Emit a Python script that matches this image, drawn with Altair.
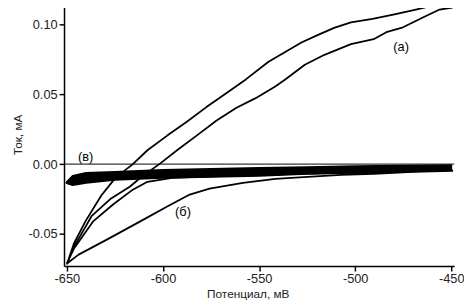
import altair as alt
import pandas as pd

# ---- curve (а): loop, left (upper) branch and right (lower) branch, bottom -> top
a_left_x = [-650, -646.4, -640.3, -632.1, -626.0, -620.8, -615.7, -608.1, -597.8, -587.6,
            -577.4, -567.1, -556.9, -545.1, -536.4, -528.0, -519.6, -511.0, -502.2, -491.0,
            -480.2, -468.4, -459.7, -454.6, -449.5]
a_left_y = [-0.0718, -0.0570, -0.0408, -0.0225, -0.0120, -0.0056, 0.0000, 0.0099, 0.0204, 0.0303,
            0.0408, 0.0507, 0.0606, 0.0732, 0.0803, 0.0870, 0.0923, 0.0975, 0.1014, 0.1040,
            0.1070, 0.1106, 0.1134, 0.1127, 0.1120]
a_right_x = [-650, -648.0, -643.9, -637.2, -627.0, -617.3, -610.6, -601.9, -592.7, -582.5,
             -572.3, -562.0, -551.8, -541.6, -536.4, -526.2, -516.0, -502.2, -490.4, -483.8,
             -475.1, -464.8, -456.1, -449.5]
a_right_y = [-0.0718, -0.0634, -0.0535, -0.0373, -0.0246, -0.0162, -0.0085, 0.0000, 0.0099, 0.0204,
             0.0310, 0.0401, 0.0472, 0.0556, 0.0606, 0.0711, 0.0782, 0.0859, 0.0894, 0.0944,
             0.0979, 0.1049, 0.1106, 0.1120]

# ---- curve (б): lower branch and upper branch, left -> right
b_low_x = [-650, -643.9, -628.5, -611.6, -597.8, -586.1, -575.8, -558.4, -541.6, -524.7,
           -507.3, -490.4, -470.0, -449.5]
b_low_y = [-0.0711, -0.0648, -0.0535, -0.0408, -0.0303, -0.0218, -0.0176, -0.0134, -0.0106, -0.0092,
           -0.0077, -0.0070, -0.0056, -0.0049]
b_up_x = [-650, -646.4, -636.2, -626.0, -615.7, -608.1, -595.3, -582.5, -531.3, -490.0, -449.5]
b_up_y = [-0.0711, -0.0606, -0.0408, -0.0289, -0.0183, -0.0127, -0.0099, -0.0092, -0.0070, -0.0058, -0.0045]

# ---- curve (в): narrow band (upper and lower edges)
c_x = [-650.5, -647, -640, -625, -600, -575, -550, -525, -500, -475, -450]
c_up = [-0.0135, -0.0085, -0.0063, -0.0056, -0.0042, -0.0035, -0.0028, -0.0021, -0.0014, -0.0011, -0.0007]
c_low = [-0.0135, -0.0150, -0.0134, -0.0113, -0.0099, -0.0092, -0.0085, -0.0070, -0.0063, -0.0056, -0.0042]

# ---- labels
lab_x = [-476.1, -589.6, -640.3]
lab_y = [0.0838, -0.0345, 0.0049]
lab_t = ["(а)", "(б)", "(в)"]

x_ticks = [-650, -600, -550, -500, -450]
y_ticks = [-0.05, 0.00, 0.05, 0.10]

# ---- build tables
rows = []
loop_a = list(zip(a_left_x, a_left_y)) + list(zip(a_right_x, a_right_y))[::-1]
for i, (xv, yv) in enumerate(loop_a):
    rows.append({"s": "a", "o": i, "x": xv, "y": yv})
loop_b = list(zip(b_low_x, b_low_y)) + list(zip(b_up_x, b_up_y))[::-1]
for i, (xv, yv) in enumerate(loop_b):
    rows.append({"s": "b", "o": i, "x": xv, "y": yv})
loop_c = list(zip(c_x, c_up)) + list(zip(c_x, c_low))[::-1]
for i, (xv, yv) in enumerate(loop_c):
    rows.append({"s": "c", "o": i, "x": xv, "y": yv})
lines_df = pd.DataFrame(rows)
band_df = pd.DataFrame({"x": c_x, "y": c_up, "y2": c_low})
lab_df = pd.DataFrame({"x": lab_x, "y": lab_y, "t": lab_t})

FONT = "Liberation Sans"

xs = alt.Scale(domain=[-651.5, -448.5], nice=False, zero=False)
ys = alt.Scale(domain=[-0.073, 0.1155], nice=False, zero=False)

x_axis = alt.Axis(values=x_ticks, title="Потенциал, мВ", labelExpr="toString(datum.value)",
                  grid=False, tickSize=5, labelPadding=2, titlePadding=3, titleX=187)
y_axis = alt.Axis(values=y_ticks, title="Ток, мА",
                  labelExpr="replace(format(datum.value, '.2f'), '\u2212', '-')",
                  grid=False, tickSize=5, labelPadding=2, titlePadding=4)

band = alt.Chart(band_df).mark_area(color="black", opacity=1).encode(
    x=alt.X("x:Q", scale=xs, axis=x_axis),
    y=alt.Y("y:Q", scale=ys, axis=y_axis),
    y2="y2:Q",
)

zero = alt.Chart(pd.DataFrame({"y": [0.0]})).mark_rule(color="black", strokeWidth=1).encode(
    y=alt.Y("y:Q", scale=ys)
)

lines = alt.Chart(lines_df).mark_line(color="black", strokeWidth=1.8, strokeJoin="round").encode(
    x=alt.X("x:Q", scale=xs),
    y=alt.Y("y:Q", scale=ys),
    detail="s:N",
    order="o:Q",
)

labels = alt.Chart(lab_df).mark_text(font=FONT, fontSize=13, color="black").encode(
    x=alt.X("x:Q", scale=xs),
    y=alt.Y("y:Q", scale=ys),
    text="t:N",
)

chart = alt.layer(band, zero, lines, labels).properties(
    width=397, height=268,
    background="white",
    autosize=alt.AutoSizeParams(type="none"),
    padding={"left": 57, "top": -8, "right": 10, "bottom": 39},
).configure_view(stroke=None).configure_axis(
    domainColor="black", domainWidth=1.5, tickColor="black", tickWidth=1.5,
    labelColor="#222222", titleColor="#222222", labelFont=FONT, titleFont=FONT,
    labelFontSize=13, titleFontSize=12, titleFontWeight="normal",
)

chart.save("out.html", embed_options={"renderer": "svg", "actions": False})
